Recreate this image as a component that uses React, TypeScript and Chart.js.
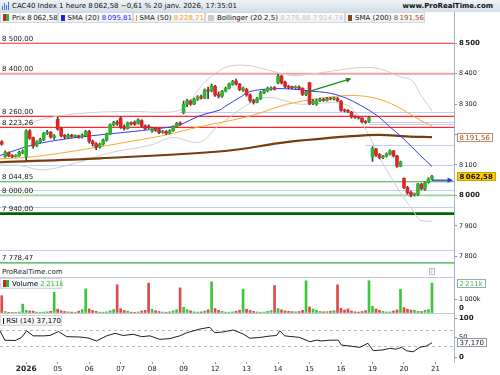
import React, { useEffect, useRef } from "react";
import { Chart, registerables } from "chart.js";
Chart.register(...registerables);

const FONT = "'DejaVu Sans', Verdana, sans-serif";

// ---- Candles (hourly, 30 Dec 17h -> 20 Jan 17h) ----
const opens = [8176, 8128,8140,8131,8128,8130,8141, 8128,8212,8190,8164,8176,8182,8204,8207,8190, 8250,8220,8198,8190,8198,8194,8196,8192,8196, 8210,8178,8170,8160,8168,8182,8202,8232,8240, 8254,8226,8220,8237,8241,8236,8246,8228,8228, 8212,8220,8216,8207,8210,8204,8212,8226,8238, 8272,8298,8310,8300,8316,8324,8320,8345,8344, 8358,8332,8326,8342,8352,8365,8376,8366,8346, 8348,8330,8312,8306,8318,8338,8344,8350,8354, 8370,8392,8372,8358,8355,8354,8356,8352,8332, 8370,8302,8300,8312,8316,8312,8318,8317,8318, 8310,8280,8278,8274,8258,8257,8254,8242,8244, 8126,8152,8134,8125,8128,8136,8146,8130,8096, 8056,8026,8010,8002,8004,8036,8020,8042,8054];
const closes = [8168, 8140,8130,8128,8131,8142,8146, 8212,8188,8162,8176,8184,8204,8208,8192,8196, 8218,8196,8192,8198,8194,8196,8192,8198,8210, 8178,8170,8158,8168,8182,8202,8232,8240,8236, 8224,8220,8238,8235,8234,8248,8228,8220,8224, 8220,8214,8206,8210,8204,8212,8226,8236,8234, 8300,8312,8300,8316,8324,8320,8346,8343,8360, 8330,8326,8342,8352,8366,8374,8366,8348,8352, 8330,8312,8306,8318,8338,8344,8352,8353,8350, 8392,8370,8358,8355,8354,8356,8352,8332,8340, 8302,8310,8312,8316,8312,8318,8317,8318,8312, 8280,8278,8276,8258,8257,8255,8242,8240,8256, 8154,8132,8124,8128,8136,8146,8130,8096,8110, 8026,8008,8001,8004,8038,8022,8042,8054,8062.58];
const highs = [8180, 8146,8143,8134,8134,8146,8150, 8216,8216,8192,8180,8188,8207,8214,8210,8200, 8258,8224,8200,8202,8201,8199,8198,8202,8214, 8214,8182,8174,8172,8185,8205,8235,8244,8246, 8258,8232,8241,8242,8245,8252,8249,8232,8232, 8224,8222,8218,8214,8213,8216,8229,8240,8242, 8310,8316,8314,8320,8328,8330,8350,8356,8366, 8362,8340,8345,8356,8369,8378,8382,8368,8356, 8352,8334,8316,8322,8342,8348,8356,8357,8358, 8398,8395,8376,8362,8359,8360,8360,8354,8344, 8372,8316,8316,8320,8319,8322,8322,8322,8322, 8312,8284,8282,8276,8262,8260,8256,8246,8259, 8160,8155,8138,8132,8140,8150,8148,8132,8113, 8058,8030,8014,8008,8040,8040,8045,8058,8066];
const lows = [8165, 8125,8127,8124,8126,8128,8137, 8115,8184,8155,8160,8172,8180,8200,8188,8184, 8214,8192,8186,8188,8190,8191,8188,8188,8193, 8172,8162,8150,8155,8165,8178,8200,8228,8230, 8220,8214,8218,8231,8230,8234,8225,8216,8219, 8208,8210,8203,8204,8200,8202,8210,8224,8230, 8268,8292,8296,8298,8312,8316,8318,8318,8340, 8325,8320,8322,8340,8350,8362,8362,8344,8342, 8326,8306,8300,8304,8315,8334,8340,8346,8346, 8366,8366,8354,8350,8350,8351,8348,8328,8328, 8298,8298,8296,8308,8309,8310,8314,8313,8308, 8276,8274,8272,8254,8253,8251,8238,8236,8240, 8112,8128,8120,8121,8126,8133,8126,8092,8094, 8022,8004,7995,7998,8000,8018,8016,8040,8051];

// ---- Volume (thousands) ----
const volumes = [1278, 110,55,45,40,70,654, 200,150,140,70,60,70,90,130,1534, 280,170,110,80,70,60,140,250,1782, 300,180,120,70,60,90,170,260,2083, 320,190,140,60,50,80,150,200,2211, 280,170,110,70,60,90,160,240,1857, 420,250,160,90,70,80,150,240,2308, 330,200,120,70,60,80,130,210,1759, 280,190,120,80,60,70,120,170,2030, 330,230,160,120,100,90,110,200,2383, 450,290,200,120,90,100,130,170,2083, 350,220,300,150,90,70,110,180,2383, 500,300,200,120,80,80,150,230,1759, 400,280,220,200,130,110,200,250,2211];

// ---- Indicators (sampled at bar index) ----
const sma20Idx = [-0.5, 8.9, 18.6, 28.1, 37.5, 47.1, 50.9, 56.7, 62.4, 63.8, 68.1, 70.9, 76.7, 82.4, 88.1, 93.8, 98.6, 102.4, 107.1, 110.9, 114.7, 119.5, 123];
const sma20Val = [8131, 8166, 8186, 8199, 8210, 8223, 8232, 8262, 8281, 8292, 8322, 8341, 8350, 8350, 8343, 8336, 8319, 8297, 8264, 8226, 8188, 8133, 8095.81];
const sma50Idx = [-0.5, 8.9, 18.6, 28.1, 37.6, 47.1, 56.7, 63.8, 71.9, 81.4, 90.9, 98.6, 104.3, 110, 115.7, 119.5, 123];
const sma50Val = [8120, 8127, 8142, 8160, 8179, 8199, 8226, 8242, 8264, 8299, 8319, 8328, 8325, 8308, 8275, 8248, 8228.71];
const sma200Idx = [-0.5, 28.1, 63.8, 81.4, 100.5, 108.1, 115.7, 123];
const sma200Val = [8109, 8122, 8146, 8175, 8195, 8199, 8194, 8191.56];
const bbUpIdx = [-0.5, 5.2, 10.9, 16.7, 25.2, 36.7, 48.1, 52.4, 56.7, 60.9, 65.2, 70.9, 76.7, 82.4, 88.1, 95.2, 102.4, 108.1, 113.8, 117.2, 119.5, 123];
const bbUpVal = [8236, 8232, 8248, 8262, 8272, 8276, 8274, 8290, 8355, 8400, 8425, 8426, 8410, 8395, 8398, 8410, 8420, 8416, 8390, 8379, 8336, 8276.88];
const bbLoIdx = [-0.5, 5.2, 11.8, 21.5, 30.9, 42.4, 48.9, 56.7, 62.4, 74.7, 85.2, 98.7, 104.4, 108.1, 113.8, 117.5, 119.5, 123];
const bbLoVal = [8100, 8098, 8084, 8107, 8140, 8165, 8190, 8175, 8234, 8320, 8300, 8297, 8210, 8123, 8012, 7952, 7920, 7914.74];
const rsiIdx = [-0.5, 0.9, 3.8, 5.7, 7.1, 9, 11.9, 13.8, 16.2, 18.6, 22.4, 24.7, 27.1, 30, 32.4, 34.7, 37.6, 40, 42.4, 45.2, 48.1, 50.9, 52.9, 56.7, 59.5, 60.9, 63.3, 66.2, 69, 70.9, 73.8, 76.7, 78.6, 79.5, 80.9, 85.2, 88.1, 90, 91.4, 93.8, 96.2, 97.1, 99.5, 102.4, 104.7, 106.2, 109, 110.9, 112.8, 114.3, 115.7, 117.6, 119.5, 121.4, 123];
const rsiVal = [68, 44, 43, 51, 68, 55, 55, 56, 66, 53, 52, 49.5, 42, 55, 61.5, 56, 59, 53, 55, 46, 48, 55, 63, 72.6, 77, 63, 65, 70, 60, 49, 51, 54.6, 56, 68, 55, 51, 40, 44, 42, 44, 44, 31.5, 29, 25.6, 36, 17, 19, 23, 21, 25.6, 17, 14, 25.6, 29, 37.17];

// ---- Axis ticks ----
const dayTickIdx = [7, 16, 25, 34, 43, 52, 61, 70, 79, 88, 97, 106, 115, 124];
const dayTickLabels = ["2026", "05", "06", "07", "08", "09", "12", "13", "14", "15", "16", "19", "20", "21"];
const priceTicks = [7800, 7900, 8000, 8100, 8200, 8300, 8400, 8500];
const volTicks = [0, 1000];
const rsiTicks = [0, 50, 100];
const rsiBands = [30, 70];

// ---- Drawn levels ----
const levelValues = [8500, 8400, 8260, 8223.26, 8044.85, 8000, 7940, 7778.47];
const levelLabels = ["8 500,00", "8 400,00", "8 260,00", "8 223,26", "8 044,85", "8 000,00", "7 940,00", "7 778,47"];
const levelColors = ["#ff2a2a", "#f5a0a2", "#ff2a2a", "#ff2a2a", "#3da83d", "#9ed39e", "#006400", "#3da83d"];
const levelWidths = [1.2, 2, 1.2, 1.2, 1.2, 1.6, 2.6, 1.2];
const blueLevels = [8274, 8241, 8235, 8166, 8101, 8018, 7961, 7819];
const blueStarts = [51, 105, 105, 104, -0.5, -0.5, -0.5, -0.5];
const trendArrow = { i0: 87.5, p0: 8340, i1: 100, p1: 8384 };
const priceArrow = { i0: 123, p0: 8050, i1: 129, p1: 8050 };

const X_MIN = -0.49;
const X_MAX = 129.3;
const AXIS_W = 46;

const fmtThousands = (n: number) => String(n).replace(/\B(?=(\d{3})+(?!\d))/g, "\u2009");
const GREEN = "#2fb52f";
const RED = "#de2424";

function drawArrow(ctx: CanvasRenderingContext2D, x0: number, y0: number, x1: number, y1: number, color: string, w: number, head: number) {
  const ang = Math.atan2(y1 - y0, x1 - x0);
  ctx.strokeStyle = color;
  ctx.fillStyle = color;
  ctx.lineWidth = w;
  ctx.beginPath();
  ctx.moveTo(x0, y0);
  ctx.lineTo(x1 - Math.cos(ang) * head * 0.8, y1 - Math.sin(ang) * head * 0.8);
  ctx.stroke();
  ctx.beginPath();
  ctx.moveTo(x1, y1);
  ctx.lineTo(x1 - head * Math.cos(ang - 0.45), y1 - head * Math.sin(ang - 0.45));
  ctx.lineTo(x1 - head * Math.cos(ang + 0.45), y1 - head * Math.sin(ang + 0.45));
  ctx.closePath();
  ctx.fill();
}

function drawBox(ctx: CanvasRenderingContext2D, text: string, x: number, yc: number, bg: string, fg: string, border: string, bold: boolean) {
  ctx.font = `${bold ? "bold " : ""}7px ${FONT}`;
  const w = Math.ceil(ctx.measureText(text).width) + 5;
  const h = 9;
  const top = Math.round(yc - h / 2);
  ctx.fillStyle = bg;
  ctx.fillRect(x, top, w, h);
  ctx.strokeStyle = border;
  ctx.lineWidth = 1;
  ctx.strokeRect(x + 0.5, top + 0.5, w - 1, h - 1);
  ctx.fillStyle = fg;
  ctx.textBaseline = "middle";
  ctx.textAlign = "left";
  ctx.fillText(text, x + 2.5, top + h / 2 + 0.5);
}

const pts = (idx: number[], val: number[]) => idx.map((x, k) => ({ x, y: val[k] }));

const rightAxisBase = {
  position: "right" as const,
  afterFit: (s: any) => { s.width = AXIS_W; s.paddingTop = 0; s.paddingBottom = 0; },
  grid: { drawOnChartArea: false, tickLength: 3, color: "#8796a6" },
  border: { color: "#a6b3c1" },
};

export default function App() {
  const priceRef = useRef<HTMLCanvasElement>(null);
  const volRef = useRef<HTMLCanvasElement>(null);
  const rsiRef = useRef<HTMLCanvasElement>(null);

  useEffect(() => {
    const charts: Chart[] = [];
    const idx = closes.map((_, i) => i);
    const candleColors = idx.map((i) => (closes[i] >= opens[i] ? GREEN : RED));
    const lastSma200 = sma200Val[sma200Val.length - 1];

    const pricePlugin = {
      id: "priceDecor",
      beforeDatasetsDraw(chart: any) {
        const { ctx, chartArea: a, scales } = chart;
        const x = scales.x, y = scales.y;
        ctx.save();
        blueLevels.forEach((v, k) => {
          const py = Math.round(y.getPixelForValue(v)) + 0.5;
          ctx.strokeStyle = "#c2cdf4";
          ctx.lineWidth = 1;
          ctx.beginPath();
          ctx.moveTo(Math.max(a.left, x.getPixelForValue(blueStarts[k])), py);
          ctx.lineTo(a.right, py);
          ctx.stroke();
        });
        levelValues.forEach((v, k) => {
          const py = y.getPixelForValue(v);
          ctx.strokeStyle = levelColors[k];
          ctx.lineWidth = levelWidths[k];
          ctx.beginPath();
          ctx.moveTo(a.left, py);
          ctx.lineTo(a.right, py);
          ctx.stroke();
        });
        ctx.restore();
      },
      afterDatasetsDraw(chart: any) {
        const { ctx, scales } = chart;
        const x = scales.x, y = scales.y;
        ctx.save();
        drawArrow(ctx, x.getPixelForValue(trendArrow.i0), y.getPixelForValue(trendArrow.p0), x.getPixelForValue(trendArrow.i1), y.getPixelForValue(trendArrow.p1), "#1f8a1f", 1.3, 6);
        drawArrow(ctx, x.getPixelForValue(priceArrow.i0), y.getPixelForValue(priceArrow.p0), x.getPixelForValue(priceArrow.i1), y.getPixelForValue(priceArrow.p1), "#2b3fd6", 1.3, 6);
        ctx.font = `7px ${FONT}`;
        ctx.fillStyle = "#1a1a1a";
        ctx.textBaseline = "alphabetic";
        ctx.textAlign = "left";
        levelValues.forEach((v, k) => {
          const py = y.getPixelForValue(v);
          ctx.fillText(levelLabels[k], 2, py - 2.5);
        });
        ctx.restore();
      },
      afterDraw(chart: any) {
        const { ctx, scales } = chart;
        const y = scales.y;
        ctx.save();
        drawBox(ctx, "8\u2009191,56", 457, y.getPixelForValue(lastSma200), "#ffffff", "#9a4f1e", "#b98d6c", false);
        drawBox(ctx, "8\u2009062,58", 457, y.getPixelForValue(closes[closes.length - 1]), "#ffcc00", "#111111", "#c9a200", true);
        ctx.restore();
      },
    };

    const lineDs = (data: any[], color: string, width: number, order: number) => ({
      type: "line" as const,
      data,
      borderColor: color,
      borderWidth: width,
      pointRadius: 0,
      tension: 0.35,
      order,
    });

    if (priceRef.current) {
      charts.push(
        new Chart(priceRef.current, {
          type: "bar",
          data: {
            datasets: [
              {
                type: "bar",
                data: idx.map((i) => ({ x: i, y: [Math.min(opens[i], closes[i]), Math.max(opens[i], closes[i])] })) as any,
                backgroundColor: candleColors,
                barThickness: 3,
                minBarLength: 1,
                grouped: false,
                order: 0,
              } as any,
              {
                type: "bar",
                data: idx.map((i) => ({ x: i, y: [lows[i], highs[i]] })) as any,
                backgroundColor: "#3b3b3b",
                barThickness: 1,
                grouped: false,
                order: 1,
              } as any,
              lineDs(pts(sma20Idx, sma20Val), "#3737f5", 1, 2),
              lineDs(pts(sma50Idx, sma50Val), "#ffa42c", 1, 3),
              lineDs(pts(sma200Idx, sma200Val), "#7a3c0e", 2.2, 4),
              lineDs(pts(bbUpIdx, bbUpVal), "#cfcfcf", 1, 5),
              lineDs(pts(bbLoIdx, bbLoVal), "#cfcfcf", 1, 6),
            ],
          },
          options: {
            animation: false,
            responsive: false,
            maintainAspectRatio: false,
            layout: { padding: 0, autoPadding: false } as any,
            plugins: { legend: { display: false }, tooltip: { enabled: false } },
            scales: {
              x: { type: "linear", min: X_MIN, max: X_MAX, display: false, offset: false },
              y: {
                ...rightAxisBase,
                min: 7768,
                max: 8560,
                afterBuildTicks: (s: any) => { s.ticks = priceTicks.map((v) => ({ value: v })); },
                ticks: {
                  padding: 2,
                  color: "#1a1a1a",
                  callback: (v: any) => (Math.abs(Number(v) - lastSma200) < 20 ? "" : fmtThousands(Number(v))),
                  font: (c: any) => (c.tick && c.tick.value % 500 === 0 ? { family: FONT, size: 7, weight: "bold" } : { family: FONT, size: 6.5 }),
                },
              } as any,
            },
          },
          plugins: [pricePlugin],
        })
      );
    }

    const volPlugin = {
      id: "volDecor",
      afterDraw(chart: any) {
        const { ctx, scales } = chart;
        const y = scales.y;
        ctx.save();
        ctx.font = `bold 7px ${FONT}`;
        ctx.fillStyle = "#1a1a1a";
        ctx.textBaseline = "middle";
        ctx.fillText("0", 459, y.getPixelForValue(0) - 4.5);
        drawBox(ctx, "2\u2009211k", 457, y.getPixelForValue(volumes[volumes.length - 1]), "#ffffff", "#3fc43f", "#9aa6b2", false);
        ctx.restore();
      },
    };

    if (volRef.current) {
      charts.push(
        new Chart(volRef.current, {
          type: "bar",
          data: {
            datasets: [
              {
                data: volumes.map((v, i) => ({ x: i, y: v })) as any,
                backgroundColor: candleColors.map((c) => (c === GREEN ? "#3cc63c" : "#dc4a4a")),
                barThickness: 2,
              },
            ],
          },
          options: {
            animation: false,
            responsive: false,
            maintainAspectRatio: false,
            layout: { padding: 0, autoPadding: false } as any,
            plugins: { legend: { display: false }, tooltip: { enabled: false } },
            scales: {
              x: { type: "linear", min: X_MIN, max: X_MAX, display: false, offset: false },
              y: {
                ...rightAxisBase,
                min: 0,
                max: 2662,
                afterBuildTicks: (s: any) => { s.ticks = volTicks.map((v) => ({ value: v })); },
                ticks: {
                  padding: 2,
                  color: "#1a1a1a",
                  font: { family: FONT, size: 6.5 },
                  callback: (v: any) => (Number(v) === 0 ? "" : fmtThousands(Number(v)) + "k"),
                },
              } as any,
            },
          },
          plugins: [volPlugin],
        })
      );
    }

    const rsiPlugin = {
      id: "rsiDecor",
      beforeDatasetsDraw(chart: any) {
        const { ctx, chartArea: a, scales } = chart;
        const y = scales.y;
        ctx.save();
        ctx.strokeStyle = "#b9b9b9";
        ctx.lineWidth = 1;
        ctx.setLineDash([3, 3]);
        rsiBands.forEach((v) => {
          const py = Math.round(y.getPixelForValue(v)) + 0.5;
          ctx.beginPath();
          ctx.moveTo(a.left, py);
          ctx.lineTo(a.right, py);
          ctx.stroke();
        });
        ctx.restore();
      },
      afterDraw(chart: any) {
        const { ctx, scales } = chart;
        ctx.save();
        drawBox(ctx, "37,170", 457, scales.y.getPixelForValue(rsiVal[rsiVal.length - 1]), "#ffffff", "#1a1a1a", "#8d99a6", false);
        ctx.restore();
      },
    };

    if (rsiRef.current) {
      charts.push(
        new Chart(rsiRef.current, {
          type: "line",
          data: {
            datasets: [
              {
                data: pts(rsiIdx, rsiVal),
                borderColor: "#1e1e1e",
                borderWidth: 1,
                pointRadius: 0,
                tension: 0,
              },
            ],
          },
          options: {
            animation: false,
            responsive: false,
            maintainAspectRatio: false,
            layout: { padding: 0, autoPadding: false } as any,
            plugins: { legend: { display: false }, tooltip: { enabled: false } },
            scales: {
              x: {
                type: "linear",
                min: X_MIN,
                max: X_MAX,
                offset: false,
                afterFit: (s: any) => { s.height = 13; s.paddingLeft = 0; s.paddingRight = 0; },
                afterBuildTicks: (s: any) => { s.ticks = dayTickIdx.map((v) => ({ value: v })); },
                grid: { drawOnChartArea: false, tickLength: 2, color: "#8796a6" },
                border: { display: false },
                ticks: {
                  autoSkip: false,
                  maxRotation: 0,
                  padding: 1,
                  color: "#222",
                  callback: (_v: any, k: number) => dayTickLabels[k],
                  font: (c: any) => (c.index === 0 ? { family: FONT, size: 7.5, weight: "bold" } : { family: FONT, size: 7 }),
                },
              } as any,
              y: {
                ...rightAxisBase,
                min: -12,
                max: 113.6,
                afterBuildTicks: (s: any) => { s.ticks = rsiTicks.map((v) => ({ value: v })); },
                ticks: {
                  padding: 2,
                  color: "#1a1a1a",
                  callback: (v: any) => String(v),
                  font: (c: any) => (c.tick && c.tick.value !== 50 ? { family: FONT, size: 7, weight: "bold" } : { family: FONT, size: 6.5 }),
                },
              } as any,
            },
          },
          plugins: [rsiPlugin],
        })
      );
    }

    return () => charts.forEach((c) => c.destroy());
  }, []);

  const legendBox = (left: number, width: number, children: React.ReactNode) => (
    <div
      style={{
        position: "absolute",
        left,
        top: 12,
        width,
        height: 11,
        boxSizing: "border-box",
        border: "1px solid #d3d8dd",
        background: "linear-gradient(#ffffff, #eef1f4)",
        display: "flex",
        alignItems: "center",
        gap: 3,
        paddingLeft: 2,
        fontSize: 7,
        whiteSpace: "nowrap",
        color: "#111",
        overflow: "hidden",
      }}
    >
      {children}
    </div>
  );
  const sq = (color: string) => <span style={{ display: "inline-block", width: 6, height: 6, background: color }} />;
  const split = (
    <span style={{ display: "inline-flex", width: 6, height: 7 }}>
      <span style={{ width: 3, background: "#e02020" }} />
      <span style={{ width: 3, background: "#2fb52f" }} />
    </span>
  );

  return (
    <div style={{ position: "fixed", left: 0, top: 0, width: 500, height: 375, background: "#fff", overflow: "hidden", fontFamily: FONT }}>
      {/* title bar */}
      <div style={{ position: "absolute", left: 0, top: 0, width: 500, height: 12, background: "linear-gradient(#edf2f6, #d3dee7)", fontSize: 7, lineHeight: "12px", color: "#111", whiteSpace: "nowrap" }}>
        <span style={{ position: "absolute", left: 2, top: 2, width: 7, height: 8, display: "flex", alignItems: "flex-end", gap: 1 }}>
          <span style={{ width: 1, height: 4, background: "#3d7bd0" }} />
          <span style={{ width: 1, height: 7, background: "#3d7bd0" }} />
          <span style={{ width: 1, height: 5, background: "#3d7bd0" }} />
          <span style={{ width: 1, height: 8, background: "#3d7bd0" }} />
        </span>
        <span style={{ position: "absolute", left: 12, top: 0 }}>CAC40 Index 1 heure 8{"\u2009"}062,58 −0,61 % 20 janv. 2026, 17:35:01</span>
        <span style={{ position: "absolute", right: 7, top: 0, fontWeight: "bold" }}>www.ProRealTime.com</span>
      </div>
      {/* legend row */}
      {legendBox(0, 58, <>{split}<span>Prix 8{"\u2009"}062,58</span></>)}
      {legendBox(58, 75, <>{sq("#1e1ef0")}<span>SMA (20) <span style={{ color: "#2424ff" }}>8{"\u2009"}095,81</span></span></>)}
      {legendBox(133, 72, <>{sq("#ff9a1e")}<span>SMA (50) <span style={{ color: "#ff9a1e" }}>8{"\u2009"}228,71</span></span></>)}
      {legendBox(205, 140, <>{sq("#cccccc")}<span>Bollinger (20 2,5) <span style={{ color: "#c4c4c4" }}>8{"\u2009"}276,88 7{"\u2009"}914,74</span></span></>)}
      {legendBox(345, 80, <>{sq("#8a4515")}<span>SMA (200) <span style={{ color: "#9a4f1e" }}>8{"\u2009"}191,56</span></span></>)}
      {/* right axis rule */}
      <div style={{ position: "absolute", left: 454, top: 12, width: 1, height: 350, background: "#a6b3c1" }} />
      {/* panel separators */}
      <div style={{ position: "absolute", left: 0, top: 277, width: 455, height: 1, background: "#c3cbd3" }} />
      <div style={{ position: "absolute", left: 0, top: 313, width: 455, height: 1, background: "#c3cbd3" }} />
      <canvas ref={priceRef} width={500} height={241} style={{ position: "absolute", left: 0, top: 25, display: "block" }} />
      <canvas ref={volRef} width={500} height={36} style={{ position: "absolute", left: 0, top: 277, display: "block" }} />
      <canvas ref={rsiRef} width={500} height={62} style={{ position: "absolute", left: 0, top: 313, display: "block" }} />
      <div style={{ position: "absolute", left: 2, top: 268, fontSize: 7, color: "#222", lineHeight: "9px" }}>ProRealTime.com</div>
      <div style={{ position: "absolute", left: 429, top: 268, width: 6, height: 7, boxSizing: "border-box", border: "1px solid #b6bec7", fontSize: 5, lineHeight: "5px", textAlign: "center", color: "#555" }}>i</div>
      {/* sub-panel legends */}
      <div style={{ position: "absolute", left: 0, top: 278, height: 11, width: 62, boxSizing: "border-box", border: "1px solid #d3d8dd", background: "linear-gradient(#ffffff, #eef1f4)", display: "flex", alignItems: "center", gap: 3, paddingLeft: 2, fontSize: 7, whiteSpace: "nowrap" }}>
        {split}<span>Volume <span style={{ color: "#3fc43f" }}>2{"\u2009"}211k</span></span>
      </div>
      <div style={{ position: "absolute", left: 0, top: 315, height: 11, width: 62, boxSizing: "border-box", border: "1px solid #d3d8dd", background: "linear-gradient(#ffffff, #eef1f4)", display: "flex", alignItems: "center", gap: 3, paddingLeft: 2, fontSize: 7, whiteSpace: "nowrap" }}>
        {sq("#111")}<span>RSI (14) 37,170</span>
      </div>
    </div>
  );
}
